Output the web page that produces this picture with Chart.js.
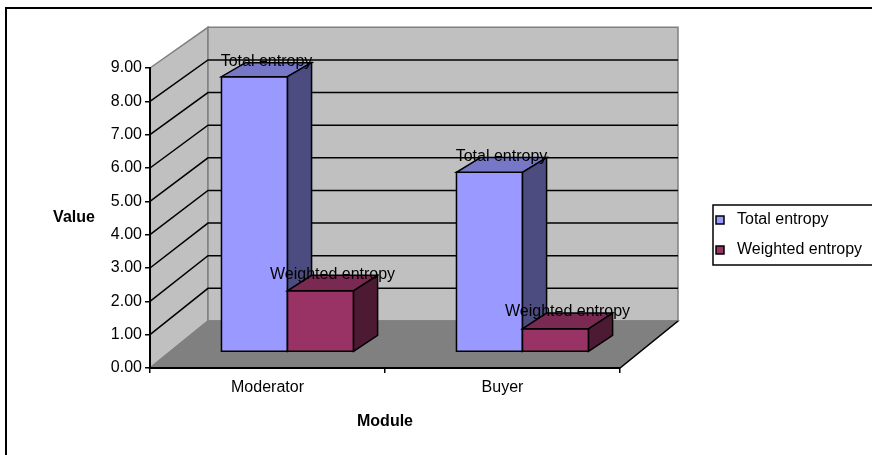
<!DOCTYPE html>
<html>
<head>
<meta charset="utf-8">
<title>Entropy by module</title>
<script src="https://cdn.jsdelivr.net/npm/chart.js@4.4.1/dist/chart.umd.min.js"></script>
<style>
  html, body { margin: 0; padding: 0; background: #fff; }
  #wrap { position: relative; width: 872px; height: 455px; }
</style>
</head>
<body>
<div id="wrap"><canvas id="entropyChart"></canvas></div>
<script>
// ---- data ----
const modules = ["Moderator", "Buyer"];
const totalEntropy = [8.32, 5.43];
const weightedEntropy = [1.85, 0.70];
const yMin = 0;
const yMax = 9;
const yStep = 1;

// ---- 3d look ----
const FONT = '"Liberation Sans", Arial, sans-serif';
const DEPTH = { dx: 58, dy: -47, shrink: 0.021 };   // floor depth in px
const BAR_FRONT = { tx: 0.345, ty: 0.34 };
const BAR_BACK = { tx: 0.76, ty: 0.68 };

function project(area, x, y, tx, ty) {
  return {
    x: x + tx * DEPTH.dx,
    y: area.bottom + ty * DEPTH.dy - (area.bottom - y) * (1 - ty * DEPTH.shrink)
  };
}

function poly(ctx, pts, fill, stroke, lw) {
  ctx.beginPath();
  ctx.moveTo(pts[0].x, pts[0].y);
  for (let i = 1; i < pts.length; i++) ctx.lineTo(pts[i].x, pts[i].y);
  ctx.closePath();
  if (fill) { ctx.fillStyle = fill; ctx.fill(); }
  if (stroke) { ctx.strokeStyle = stroke; ctx.lineWidth = lw || 1; ctx.stroke(); }
}

function line(ctx, pts, color, lw) {
  ctx.beginPath();
  ctx.moveTo(pts[0].x, pts[0].y);
  for (let i = 1; i < pts.length; i++) ctx.lineTo(pts[i].x, pts[i].y);
  ctx.strokeStyle = color;
  ctx.lineWidth = lw;
  ctx.stroke();
}

const excel3d = {
  id: "excel3d",
  beforeDraw(chart) {
    const ctx = chart.ctx, a = chart.chartArea, ys = chart.scales.y;
    const L = a.left, R = a.right, T = a.top, B = a.bottom;
    ctx.save();
    ctx.fillStyle = "#fff";
    ctx.fillRect(0, 0, chart.width, chart.height);

    // outer frame (cut off on right and bottom)
    line(ctx, [{ x: 6, y: chart.height + 2 }, { x: 6, y: 8 }, { x: chart.width + 2, y: 8 }], "#000", 2);

    const btl = project(a, L, T, 1, 1), btr = project(a, R, T, 1, 1);
    const bbl = project(a, L, B, 1, 1), bbr = project(a, R, B, 1, 1);
    // side wall, back wall, floor
    poly(ctx, [{ x: L, y: T }, btl, bbl, { x: L, y: B }], "#c0c0c0", "#808080", 1.5);
    poly(ctx, [btl, btr, bbr, bbl], "#c0c0c0", "#808080", 1.5);
    poly(ctx, [{ x: L, y: B }, { x: R, y: B }, bbr, bbl], "#808080", "#808080", 1.5);
    line(ctx, [{ x: R, y: B }, bbr], "#000", 1.5);

    // grid lines on the walls
    ys.ticks.forEach(tk => {
      if (tk.value <= ys.min || tk.value >= ys.max) return;
      const y = ys.getPixelForValue(tk.value);
      line(ctx, [{ x: L, y: y }, project(a, L, y, 1, 1), project(a, R, y, 1, 1)], "#000", 1.5);
    });
    ctx.restore();
  },
  beforeDatasetsDraw(chart) {
    const ctx = chart.ctx, a = chart.chartArea;
    const labels = [];
    ctx.save();
    modules.forEach((_, i) => {
      chart.data.datasets.forEach((ds, d) => {
        const el = chart.getDatasetMeta(d).data[i];
        const p = el.getProps(["x", "y", "base", "width"], true);
        const l = p.x - p.width / 2, r = p.x + p.width / 2;
        const f = (x, y) => project(a, x, y, BAR_FRONT.tx, BAR_FRONT.ty);
        const b = (x, y) => project(a, x, y, BAR_BACK.tx, BAR_BACK.ty);
        const [front, top, side] = ds.shades;
        poly(ctx, [f(l, p.y), f(r, p.y), f(r, p.base), f(l, p.base)], front, "#000", 1.5);
        poly(ctx, [f(l, p.y), f(r, p.y), b(r, p.y), b(l, p.y)], top, "#000", 1.5);
        poly(ctx, [f(r, p.y), b(r, p.y), b(r, p.base), f(r, p.base)], side, "#000", 1.5);
        labels.push({
          text: ds.label,
          x: (f(p.x, p.y).x + b(p.x, p.y).x) / 2,
          y: b(p.x, p.y).y - 1
        });
      });
    });
    ctx.font = "16px " + FONT;
    ctx.fillStyle = "#000";
    ctx.textAlign = "center";
    ctx.textBaseline = "middle";
    labels.forEach(lb => ctx.fillText(lb.text, lb.x, lb.y));
    ctx.restore();
    return false;
  },
  afterDraw(chart) {
    const ctx = chart.ctx, a = chart.chartArea;
    ctx.save();
    // vertical axis title
    ctx.font = "bold 16px " + FONT;
    ctx.fillStyle = "#000";
    ctx.textAlign = "center";
    ctx.textBaseline = "middle";
    ctx.fillText("Value", a.left - 76, (a.top + a.bottom) / 2);

    // legend box
    const lx = 713, ly = 205;
    ctx.strokeStyle = "#000";
    ctx.lineWidth = 1.5;
    ctx.strokeRect(lx, ly, chart.width - lx + 10, 60);
    ctx.font = "16px " + FONT;
    ctx.textAlign = "left";
    chart.data.datasets.forEach((ds, d) => {
      const cy = ly + 15 + d * 30;
      ctx.fillStyle = ds.backgroundColor;
      ctx.fillRect(716, cy - 4, 8, 8);
      ctx.strokeRect(716, cy - 4, 8, 8);
      ctx.fillStyle = "#000";
      ctx.fillText(ds.label, 737, cy);
    });
    ctx.restore();
  }
};

Chart.defaults.font.family = FONT;
Chart.defaults.color = "#000";

new Chart(document.getElementById("entropyChart"), {
  type: "bar",
  data: {
    labels: modules,
    datasets: [
      {
        label: "Total entropy",
        data: totalEntropy,
        backgroundColor: "#9999ff",
        shades: ["#9999ff", "#7777c8", "#4c4c80"]
      },
      {
        label: "Weighted entropy",
        data: weightedEntropy,
        backgroundColor: "#993366",
        shades: ["#993366", "#7a2952", "#4d1a33"]
      }
    ]
  },
  options: {
    responsive: true,
    maintainAspectRatio: false,
    animation: false,
    layout: { padding: { left: 90, top: 68, right: 252, bottom: 0 } },
    datasets: { bar: { categoryPercentage: 0.562, barPercentage: 1.0 } },
    plugins: {
      legend: { display: false },
      tooltip: { enabled: false }
    },
    scales: {
      x: {
        grid: { drawOnChartArea: false, tickLength: 5, color: "#000", lineWidth: 1.5 },
        border: { display: true, color: "#000", width: 2 },
        ticks: { font: { size: 16 }, padding: 5 },
        title: {
          display: true,
          text: "Module",
          font: { size: 16, weight: "bold" },
          padding: { top: 4, bottom: 24 }
        },
        afterFit(scale) { scale.height = 87; }
      },
      y: {
        min: yMin,
        max: yMax,
        grid: { drawOnChartArea: false, tickLength: 5, color: "#000", lineWidth: 1.5 },
        border: { display: true, color: "#000", width: 2 },
        ticks: {
          stepSize: yStep,
          font: { size: 16 },
          padding: 3,
          callback: v => Number(v).toFixed(2)
        },
        afterFit(scale) { scale.width = 60; }
      }
    }
  },
  plugins: [excel3d]
});
</script>
</body>
</html>
